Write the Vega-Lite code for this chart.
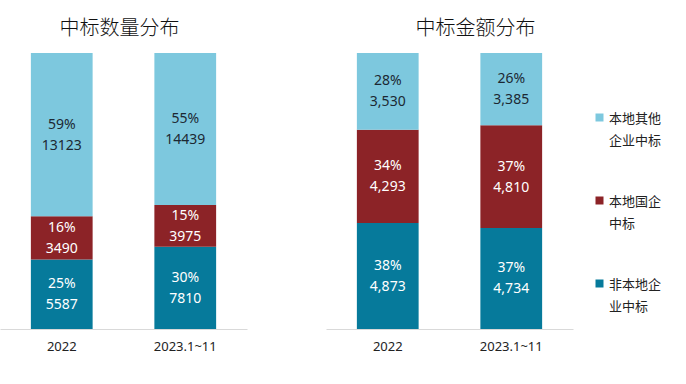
{
  "$schema": "https://vega.github.io/schema/vega-lite/v6.json",
  "padding": {"left": 0, "top": 19, "right": 0, "bottom": 0},
  "background": "white",
  "datasets": {
    "count": [
      {"year": "2022", "cat": "非本地企业中标", "o": 1, "v": 5587, "pct": "25%"},
      {"year": "2022", "cat": "本地国企中标", "o": 2, "v": 3490, "pct": "16%"},
      {"year": "2022", "cat": "本地其他企业中标", "o": 3, "v": 13123, "pct": "59%"},
      {"year": "2023.1~11", "cat": "非本地企业中标", "o": 1, "v": 7810, "pct": "30%"},
      {"year": "2023.1~11", "cat": "本地国企中标", "o": 2, "v": 3975, "pct": "15%"},
      {"year": "2023.1~11", "cat": "本地其他企业中标", "o": 3, "v": 14439, "pct": "55%"}
    ],
    "amount": [
      {"year": "2022", "cat": "非本地企业中标", "o": 1, "v": 4873, "pct": "38%"},
      {"year": "2022", "cat": "本地国企中标", "o": 2, "v": 4293, "pct": "34%"},
      {"year": "2022", "cat": "本地其他企业中标", "o": 3, "v": 3530, "pct": "28%"},
      {"year": "2023.1~11", "cat": "非本地企业中标", "o": 1, "v": 4734, "pct": "37%"},
      {"year": "2023.1~11", "cat": "本地国企中标", "o": 2, "v": 4810, "pct": "37%"},
      {"year": "2023.1~11", "cat": "本地其他企业中标", "o": 3, "v": 3385, "pct": "26%"}
    ]
  },
  "config": {
    "view": {"stroke": null},
    "font": "Noto Sans CJK SC",
    "title": {"font": "Noto Sans CJK SC", "fontSize": 20, "fontWeight": 300, "color": "#111111", "offset": 14},
    "style": {"guide-label": {"lineHeight": 22}}
  },
  "spacing": 79,
  "resolve": {"legend": {"color": "independent"}},
  "hconcat": [
    {
      "width": 247,
      "height": 276,
      "title": {"text": "中标数量分布", "dx": -4},
      "data": {"name": "count"},
      "encoding": {
        "x": {"field": "year", "type": "nominal", "title": null, "sort": null,
          "scale": {"paddingInner": 0.5, "paddingOuter": 0.25},
          "axis": {"labelAngle": 0, "ticks": false, "domainColor": "#d9d9d9", "labelFont": "Noto Sans", "labelFontSize": 13, "labelColor": "#222222", "labelPadding": 11}},
        "y": {"field": "v", "type": "quantitative", "stack": "normalize", "axis": null},
        "order": {"field": "o", "type": "quantitative"}
      },
      "layer": [
        {"mark": {"type": "bar"},
          "encoding": {"color": {"field": "cat", "type": "nominal", "legend": null,
            "scale": {"domain": ["本地其他企业中标", "本地国企中标", "非本地企业中标"], "range": ["#7dc8de", "#8c2327", "#067a9b"]}}}},
        {"mark": {"type": "text", "dy": -10, "fontSize": 14, "font": "Noto Sans"},
          "encoding": {
            "y": {"field": "v", "type": "quantitative", "stack": "normalize", "bandPosition": 0.5, "axis": null},
            "text": {"field": "pct"},
            "color": {"condition": {"test": "datum.cat === '本地其他企业中标'", "value": "#1c2833"}, "value": "#ffffff"}}},
        {"mark": {"type": "text", "dy": 11, "fontSize": 14, "font": "Noto Sans"},
          "encoding": {
            "y": {"field": "v", "type": "quantitative", "stack": "normalize", "bandPosition": 0.5, "axis": null},
            "text": {"field": "v", "format": "d"},
            "color": {"condition": {"test": "datum.cat === '本地其他企业中标'", "value": "#1c2833"}, "value": "#ffffff"}}}
      ]
    },
    {
      "width": 247,
      "height": 276,
      "title": {"text": "中标金额分布", "dx": 26},
      "data": {"name": "amount"},
      "encoding": {
        "x": {"field": "year", "type": "nominal", "title": null, "sort": null,
          "scale": {"paddingInner": 0.5, "paddingOuter": 0.25},
          "axis": {"labelAngle": 0, "ticks": false, "domainColor": "#d9d9d9", "labelFont": "Noto Sans", "labelFontSize": 13, "labelColor": "#222222", "labelPadding": 11}},
        "y": {"field": "v", "type": "quantitative", "stack": "normalize", "axis": null},
        "order": {"field": "o", "type": "quantitative"}
      },
      "layer": [
        {"mark": {"type": "bar"},
          "encoding": {"color": {"field": "cat", "type": "nominal",
            "scale": {"domain": ["本地其他企业中标", "本地国企中标", "非本地企业中标"], "range": ["#7dc8de", "#8c2327", "#067a9b"]},
            "legend": {"title": null, "orient": "none", "legendX": 267, "legendY": 58,
              "symbolType": "square", "symbolSize": 64, "symbolStrokeWidth": 0,
              "labelFont": "Noto Sans CJK SC", "labelFontSize": 13, "labelColor": "#222222",
              "labelExpr": "[substring(datum.label,0,4), substring(datum.label,4)]",
              "labelBaseline": "top", "labelOffset": 3, "rowPadding": 46, "labelLimit": 200,
              "encode": {"labels": {"update": {"dy": {"value": -5}}}}}}}},
        {"mark": {"type": "text", "dy": -10, "fontSize": 14, "font": "Noto Sans"},
          "encoding": {
            "y": {"field": "v", "type": "quantitative", "stack": "normalize", "bandPosition": 0.5, "axis": null},
            "text": {"field": "pct"},
            "color": {"condition": {"test": "datum.cat === '本地其他企业中标'", "value": "#1c2833"}, "value": "#ffffff"}}},
        {"mark": {"type": "text", "dy": 11, "fontSize": 14, "font": "Noto Sans"},
          "encoding": {
            "y": {"field": "v", "type": "quantitative", "stack": "normalize", "bandPosition": 0.5, "axis": null},
            "text": {"field": "v", "format": ","},
            "color": {"condition": {"test": "datum.cat === '本地其他企业中标'", "value": "#1c2833"}, "value": "#ffffff"}}}
      ]
    }
  ]
}
